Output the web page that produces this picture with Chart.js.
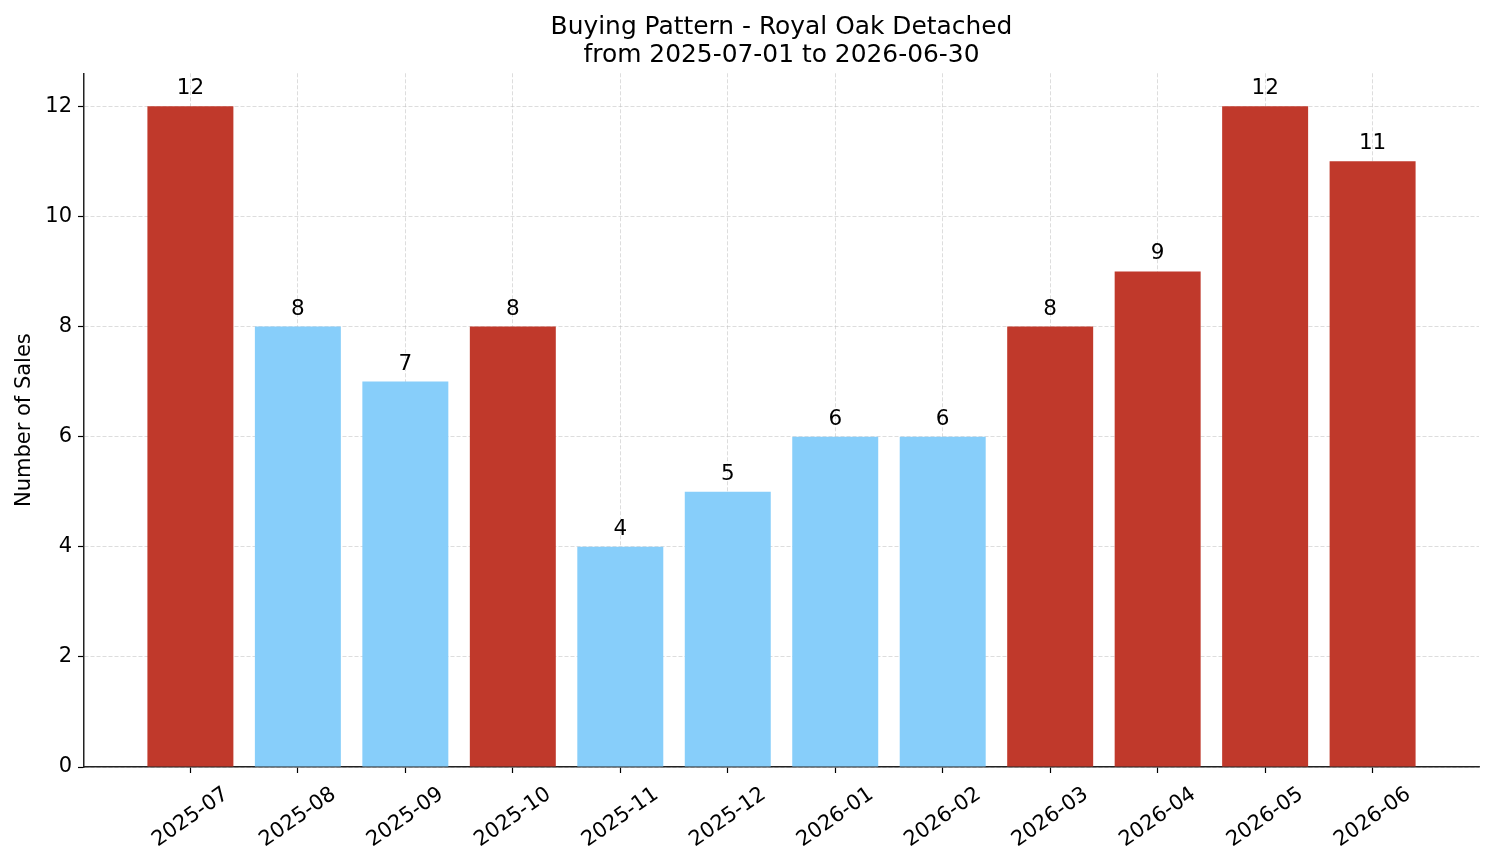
<!DOCTYPE html>
<html>
<head>
<meta charset="utf-8">
<title>Buying Pattern - Royal Oak Detached</title>
<script src="https://cdn.jsdelivr.net/npm/chart.js@4.4.1/dist/chart.umd.min.js"></script>
<style>
  html, body { margin: 0; padding: 0; background: #fff; }
  #wrap { width: 1494px; height: 863px; }
</style>
</head>
<body>
<div id="wrap"><canvas id="buyingChart" width="1494" height="863"></canvas></div>
<script>
// months shown on the x axis
const months = ['2025-07', '2025-08', '2025-09', '2025-10', '2025-11', '2025-12',
  '2026-01', '2026-02', '2026-03', '2026-04', '2026-05', '2026-06'];
// number of sales per month
const sales = [12, 8, 7, 8, 4, 5, 6, 6, 8, 9, 12, 11];
// busy months (drawn red), the rest are quiet (light blue)
const busy = [true, false, false, true, false, false, false, false, true, true, true, true];
const yTicks = [0, 2, 4, 6, 8, 10, 12];

const FONT = "'DejaVu Sans', sans-serif";
const RED = '#c0392b';
const BLUE = '#87cefa';
const GRID = 'rgba(190,190,190,0.65)';

const valueLabels = {
  id: 'valueLabels',
  afterDraw(chart) {
    const ctx = chart.ctx;
    const meta = chart.getDatasetMeta(0);
    ctx.save();
    ctx.font = '21.5px ' + FONT;
    ctx.fillStyle = '#000';
    ctx.textAlign = 'center';
    ctx.textBaseline = 'alphabetic';
    meta.data.forEach(function (bar, i) {
      ctx.fillText(String(sales[i]), bar.x, bar.y - 12);
    });
    ctx.restore();
  }
};

new Chart(document.getElementById('buyingChart'), {
  type: 'bar',
  data: {
    datasets: [{
      label: 'Number of Sales',
      data: sales.map(function (v, i) { return { x: i, y: v }; }),
      backgroundColor: busy.map(function (b) { return b ? RED : BLUE; }),
      borderWidth: 0,
      barPercentage: 0.8,
      categoryPercentage: 1.0
    }]
  },
  options: {
    responsive: false,
    animation: false,
    layout: { padding: { left: 0, right: 15, top: 0, bottom: 0 } },
    plugins: {
      legend: { display: false },
      tooltip: { enabled: false },
      title: {
        display: true,
        fullSize: false,
        text: ['Buying Pattern - Royal Oak Detached', 'from 2025-07-01 to 2026-06-30'],
        color: '#000',
        font: { family: FONT, size: 24.9, weight: 'normal', lineHeight: 1.13 },
        padding: { top: 13, bottom: 4 }
      }
    },
    scales: {
      x: {
        type: 'linear',
        offset: false,
        min: -0.99,
        max: months.length - 0.01,
        z: 1,
        afterBuildTicks: function (scale) {
          scale.ticks = months.map(function (m, i) { return { value: i }; });
        },
        afterFit: function (scale) { scale.height = 96; },
        grid: {
          offset: false,
          color: GRID,
          lineWidth: 0.8,
          tickColor: '#000',
          tickLength: 6,
          tickWidth: 1.2,
          tickBorderDash: []
        },
        border: { display: true, color: '#222', width: 1.5, dash: [4, 2] },
        ticks: {
          autoSkip: false,
          minRotation: 35,
          maxRotation: 35,
          labelOffset: 36,
          padding: 9,
          color: '#000',
          font: { family: FONT, size: 21 },
          callback: function (value) { return months[value]; }
        }
      },
      y: {
        min: 0,
        max: 12.6,
        z: 1,
        afterBuildTicks: function (scale) {
          scale.ticks = yTicks.map(function (v) { return { value: v }; });
        },
        afterFit: function (scale) { scale.width = 84; },
        grid: {
          color: GRID,
          lineWidth: 0.8,
          tickColor: '#000',
          tickLength: 6,
          tickWidth: 1.2,
          tickBorderDash: []
        },
        border: { display: true, color: '#222', width: 1.5, dash: [4, 2] },
        ticks: {
          padding: 6,
          color: '#000',
          font: { family: FONT, size: 21 }
        },
        title: {
          display: true,
          text: 'Number of Sales',
          color: '#000',
          font: { family: FONT, size: 21 },
          padding: { top: 12, bottom: 0 }
        }
      }
    }
  },
  plugins: [valueLabels]
});
</script>
</body>
</html>
